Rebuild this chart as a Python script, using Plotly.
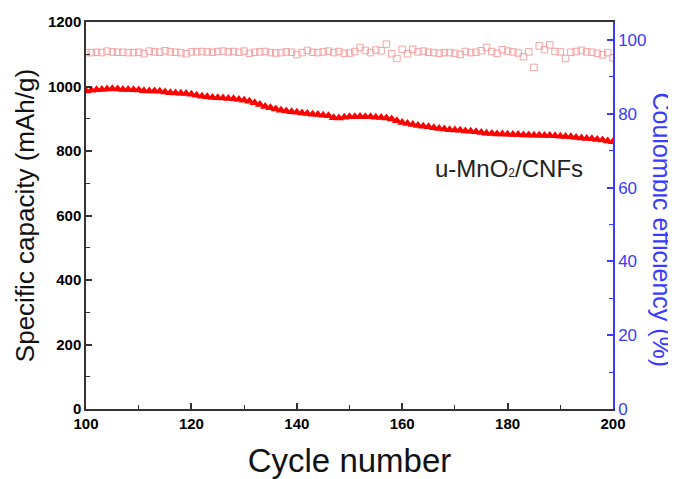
import plotly.graph_objects as go

cycles = list(range(100, 201))

capacity = [
    986, 988, 990, 991, 992, 993, 992, 991, 991, 990,
    989, 987, 986, 986, 985, 983, 981, 980, 979, 978,
    976, 973, 970, 968, 966, 965, 964, 963, 962, 960,
    957, 954, 950, 944, 938, 934, 930, 926, 924, 922,
    920, 918, 916, 914, 913, 911, 909, 903, 902, 905,
    906, 906, 907, 906, 906, 905, 904, 902, 899, 894,
    888, 885, 882, 879, 877, 875, 872, 870, 868, 866,
    865, 864, 862, 861, 860, 857, 855, 854, 853, 853,
    852, 851, 851, 850, 850, 849, 849, 848, 848, 847,
    846, 845, 844, 842, 840, 839, 838, 836, 834, 831,
    829,
]

efficiency = [
    96.6, 96.6, 96.7, 96.6, 97.0, 96.8, 96.7, 96.7, 96.6, 96.6,
    96.7, 96.3, 97.0, 96.8, 96.7, 97.1, 96.8, 96.7, 96.6, 96.3,
    96.8, 96.8, 96.9, 96.8, 96.7, 96.9, 97.0, 96.8, 96.9, 96.7,
    97.0, 96.4, 96.7, 96.8, 96.9, 96.6, 96.5, 96.6, 96.8, 96.7,
    96.1, 96.6, 97.2, 96.7, 96.6, 96.8, 97.0, 96.6, 96.9, 96.4,
    96.5, 96.9, 98.0, 97.2, 96.6, 97.3, 97.1, 98.9, 96.3, 95.0,
    97.5, 96.3, 97.5, 96.8, 97.0, 96.7, 96.6, 96.4, 96.6, 96.6,
    96.4, 96.1, 96.9, 96.6, 96.7, 97.1, 98.0, 96.9, 96.4, 97.4,
    97.0, 96.8, 96.5, 95.5, 96.8, 92.6, 98.4, 97.4, 98.7, 96.9,
    96.8, 95.0, 96.7, 96.9, 97.2, 96.8, 96.7, 96.4, 96.0, 96.6,
    95.2,
]

x_ticks = [100, 120, 140, 160, 180, 200]
left_ticks = [0, 200, 400, 600, 800, 1000, 1200]
right_ticks = [0, 20, 40, 60, 80, 100]

FONT = "Liberation Sans, Arial, sans-serif"
BLUE = "#3b3bff"
AXIS = "#333333"

fig = go.Figure()
fig.add_trace(go.Scatter(
    x=cycles, y=capacity, mode="markers", name="Capacity",
    marker=dict(symbol="triangle-up", size=9, color="#ff0000", line=dict(width=0)),
))
fig.add_trace(go.Scatter(
    x=cycles, y=efficiency, mode="markers", name="Coulombic efficiency", yaxis="y2",
    marker=dict(symbol="square-open", size=6.5, color="#f4a3a3", line=dict(width=1)),
))

fig.add_annotation(
    x=180.3, y=747, xref="x", yref="y",
    text="u-MnO<span style='font-size:12px'>2</span>/CNFs",
    showarrow=False, font=dict(family=FONT, size=24, color="#222222"),
)
fig.add_annotation(
    x=1.0, y=0.5, xref="paper", yref="paper", xshift=49, yshift=-14, textangle=90,
    text="Coulombic efficiency (%)", showarrow=False,
    font=dict(family=FONT, size=25, color=BLUE), xanchor="center", yanchor="middle",
)

fig.update_layout(
    width=668, height=471,
    margin=dict(l=78, r=63, t=14, b=70, autoexpand=False),
    paper_bgcolor="white", plot_bgcolor="white",
    showlegend=False,
    font=dict(family=FONT, color="black"),
    xaxis=dict(
        range=[100, 200], tickvals=x_ticks, ticktext=[f"<b>{v}</b>" for v in x_ticks],
        ticks="inside", ticklen=6, tickwidth=1.5, tickcolor=AXIS,
        minor=dict(dtick=10, ticks="inside", ticklen=4, tickcolor=AXIS, tickwidth=1.2),
        showline=True, linecolor=AXIS, linewidth=1.5, mirror=True,
        showgrid=False, zeroline=False, automargin=False,
        tickfont=dict(family=FONT, size=15, color="black"),
        title=dict(text="Cycle number", font=dict(family=FONT, size=33, color="#111111"), standoff=18),
    ),
    yaxis=dict(
        range=[0, 1200], tickvals=left_ticks, ticktext=[f"<b>{v}</b>" for v in left_ticks],
        ticks="inside", ticklen=6, tickwidth=1.5, tickcolor=AXIS,
        minor=dict(dtick=100, ticks="inside", ticklen=4, tickcolor=AXIS, tickwidth=1.2),
        showline=True, linecolor=AXIS, linewidth=1.5,
        showgrid=False, zeroline=False, automargin=False,
        tickfont=dict(family=FONT, size=15, color="black"),
        title=dict(text="Specific capacity (mAh/g)", font=dict(family=FONT, size=26, color="#111111"), standoff=6),
    ),
    yaxis2=dict(
        overlaying="y", side="right", range=[0, 104.9], tickvals=right_ticks,
        ticks="inside", ticklen=6, tickwidth=1.5, tickcolor=BLUE,
        minor=dict(dtick=10, ticks="inside", ticklen=4, tickcolor=BLUE, tickwidth=1.2),
        showline=True, linecolor=BLUE, linewidth=1.5,
        showgrid=False, zeroline=False, automargin=False,
        tickfont=dict(family=FONT, size=17, color=BLUE),
    ),
)

fig.write_html("out.html")
